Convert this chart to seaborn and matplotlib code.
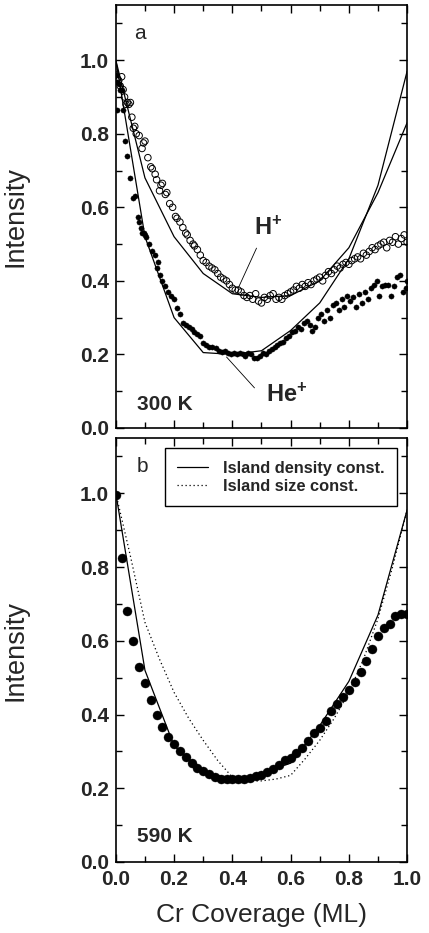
import numpy as np
import pandas as pd
import matplotlib
matplotlib.use("Agg")
import matplotlib.pyplot as plt
from matplotlib.ticker import MultipleLocator
import seaborn as sns

# ---------------- data ----------------
# Panel a : H+ (open circles)
h_x = [0.000, 0.005, 0.010, 0.015, 0.020, 0.025, 0.030, 0.035, 0.040, 0.045, 0.050, 0.055,
       0.060, 0.065, 0.070, 0.080, 0.090, 0.095, 0.100, 0.110, 0.120, 0.125, 0.135, 0.140,
       0.150, 0.155, 0.160, 0.170, 0.175, 0.185, 0.195, 0.205, 0.210, 0.220, 0.230, 0.240,
       0.245, 0.255, 0.265, 0.270, 0.280, 0.290, 0.300, 0.310, 0.320, 0.330, 0.340, 0.350,
       0.360, 0.370, 0.380, 0.390, 0.400, 0.410, 0.420, 0.430, 0.440, 0.450, 0.460, 0.470,
       0.480, 0.490, 0.500, 0.510, 0.520, 0.530, 0.540, 0.550, 0.560, 0.570, 0.580, 0.590,
       0.600, 0.610, 0.620, 0.630, 0.640, 0.650, 0.660, 0.670, 0.680, 0.690, 0.700, 0.710,
       0.720, 0.730, 0.740, 0.750, 0.760, 0.770, 0.780, 0.790, 0.800, 0.810, 0.820, 0.830,
       0.840, 0.850, 0.860, 0.870, 0.880, 0.890, 0.900, 0.910, 0.920, 0.930, 0.940, 0.950,
       0.960, 0.970, 0.980, 0.990, 1.000]
h_y = [0.960, 0.950, 0.945, 0.930, 0.955, 0.920, 0.900, 0.880, 0.885, 0.880, 0.885, 0.845,
       0.815, 0.820, 0.800, 0.795, 0.760, 0.775, 0.780, 0.735, 0.710, 0.705, 0.690, 0.675,
       0.645, 0.660, 0.665, 0.635, 0.640, 0.610, 0.600, 0.575, 0.570, 0.560, 0.545, 0.530,
       0.525, 0.510, 0.500, 0.495, 0.485, 0.470, 0.455, 0.450, 0.440, 0.435, 0.430, 0.420,
       0.410, 0.405, 0.400, 0.390, 0.380, 0.375, 0.375, 0.370, 0.360, 0.355, 0.360, 0.350,
       0.365, 0.345, 0.340, 0.355, 0.350, 0.360, 0.365, 0.350, 0.355, 0.350, 0.360, 0.365,
       0.370, 0.375, 0.385, 0.380, 0.390, 0.385, 0.395, 0.390, 0.400, 0.405, 0.410, 0.400,
       0.415, 0.425, 0.420, 0.430, 0.440, 0.435, 0.445, 0.450, 0.445, 0.455, 0.460, 0.465,
       0.460, 0.475, 0.470, 0.480, 0.490, 0.485, 0.495, 0.500, 0.505, 0.490, 0.510, 0.505,
       0.520, 0.500, 0.515, 0.525, 0.505]

# Panel a : He+ (filled circles)
he_x = [0.000, 0.003, 0.005, 0.010, 0.015, 0.020, 0.025, 0.030, 0.040, 0.050, 0.060, 0.065,
        0.075, 0.080, 0.085, 0.090, 0.095, 0.100, 0.105, 0.115, 0.125, 0.135, 0.140, 0.145,
        0.150, 0.160, 0.170, 0.180, 0.190, 0.200, 0.210, 0.220, 0.230, 0.240, 0.250, 0.260,
        0.270, 0.280, 0.290, 0.300, 0.310, 0.320, 0.330, 0.345, 0.355, 0.365, 0.375, 0.385,
        0.395, 0.405, 0.415, 0.425, 0.435, 0.445, 0.455, 0.465, 0.475, 0.485, 0.495, 0.505,
        0.515, 0.525, 0.535, 0.545, 0.555, 0.565, 0.575, 0.585, 0.595, 0.605, 0.615, 0.625,
        0.635, 0.645, 0.655, 0.665, 0.675, 0.685, 0.695, 0.705, 0.715, 0.725, 0.735, 0.745,
        0.755, 0.765, 0.775, 0.785, 0.795, 0.805, 0.815, 0.825, 0.835, 0.845, 0.855, 0.865,
        0.875, 0.885, 0.895, 0.905, 0.915, 0.925, 0.935, 0.945, 0.955, 0.965, 0.975, 0.985,
        0.995, 1.000]
he_y = [0.960, 0.865, 0.940, 0.935, 0.920, 0.920, 0.865, 0.780, 0.740, 0.680, 0.625, 0.630,
        0.575, 0.560, 0.545, 0.530, 0.530, 0.525, 0.520, 0.500, 0.480, 0.470, 0.435, 0.450,
        0.415, 0.400, 0.385, 0.370, 0.360, 0.350, 0.325, 0.310, 0.285, 0.280, 0.275, 0.270,
        0.260, 0.255, 0.250, 0.230, 0.225, 0.220, 0.220, 0.217, 0.210, 0.207, 0.210, 0.205,
        0.200, 0.205, 0.200, 0.205, 0.200, 0.195, 0.205, 0.200, 0.190, 0.190, 0.195, 0.205,
        0.200, 0.210, 0.215, 0.220, 0.225, 0.230, 0.235, 0.245, 0.250, 0.260, 0.265, 0.275,
        0.270, 0.285, 0.290, 0.280, 0.265, 0.275, 0.300, 0.310, 0.290, 0.320, 0.300, 0.335,
        0.340, 0.320, 0.350, 0.330, 0.360, 0.345, 0.355, 0.330, 0.365, 0.340, 0.370, 0.350,
        0.380, 0.390, 0.400, 0.360, 0.385, 0.390, 0.390, 0.360, 0.385, 0.410, 0.415, 0.370,
        0.380, 0.400]

# Panel a : model curves
model_x = [0.0, 0.1, 0.2, 0.3, 0.4, 0.5, 0.6, 0.7, 0.8, 0.9, 1.0]
model_h = [1.0, 0.68, 0.52, 0.42, 0.365, 0.355, 0.36, 0.40, 0.49, 0.64, 0.83]
model_he = [1.0, 0.52, 0.30, 0.205, 0.20, 0.21, 0.265, 0.34, 0.46, 0.66, 0.97]

# Panel b : 590 K data
b_x = [0.00, 0.02, 0.04, 0.06, 0.08, 0.10, 0.12, 0.14, 0.16, 0.18, 0.20, 0.22, 0.24,
       0.26, 0.28, 0.30, 0.32, 0.34, 0.36, 0.38, 0.40, 0.42, 0.44, 0.46, 0.48, 0.50,
       0.52, 0.54, 0.56, 0.58, 0.60, 0.62, 0.64, 0.66, 0.68, 0.70, 0.72, 0.74, 0.76,
       0.78, 0.80, 0.82, 0.84, 0.86, 0.88, 0.90, 0.92, 0.94, 0.96, 0.98, 1.00]
b_y = [0.995, 0.825, 0.680, 0.600, 0.530, 0.485, 0.440, 0.400, 0.365, 0.340, 0.320, 0.300,
       0.285, 0.268, 0.256, 0.246, 0.238, 0.230, 0.226, 0.225, 0.225, 0.225, 0.225, 0.228,
       0.232, 0.236, 0.245, 0.253, 0.262, 0.276, 0.282, 0.295, 0.310, 0.328, 0.350, 0.364,
       0.383, 0.410, 0.428, 0.447, 0.466, 0.488, 0.515, 0.545, 0.578, 0.612, 0.634, 0.645,
       0.668, 0.672, 0.673]

# Panel b : model curves
dens_x = [0.0, 0.1, 0.2, 0.3, 0.4, 0.5, 0.55, 0.6, 0.7, 0.8, 0.9, 1.0]
dens_y = [1.0, 0.52, 0.315, 0.245, 0.225, 0.235, 0.255, 0.268, 0.37, 0.49, 0.67, 0.955]
size_x = [0.0, 0.05, 0.1, 0.15, 0.2, 0.25, 0.3, 0.35, 0.4, 0.45, 0.5, 0.55, 0.6, 0.65,
          0.7, 0.75, 0.8, 0.85, 0.9, 0.95, 1.0]
size_y = [1.0, 0.83, 0.65, 0.55, 0.46, 0.39, 0.33, 0.275, 0.23, 0.22, 0.22, 0.225, 0.235,
          0.28, 0.33, 0.39, 0.46, 0.55, 0.66, 0.80, 0.955]

legend_labels = ["Island density const.", "Island size const."]
y_ticks = [0.0, 0.2, 0.4, 0.6, 0.8, 1.0]
x_ticks = [0.0, 0.2, 0.4, 0.6, 0.8, 1.0]

# ---------------- style ----------------
sns.set_style("ticks")
plt.rcParams["font.family"] = ["Liberation Sans", "DejaVu Sans"]
plt.rcParams["mathtext.default"] = "regular"

fig = plt.figure(figsize=(4.29, 9.33), dpi=100)
ax_a = fig.add_axes([0.270, 0.5413, 0.679, 0.4533])
ax_b = fig.add_axes([0.270, 0.0761, 0.679, 0.4544])


def style_axes(ax, show_xlabels):
    ax.set_xlim(0, 1.0)
    ax.set_ylim(0, 1.15)
    ax.set_xticks(x_ticks)
    ax.set_yticks(y_ticks)
    ax.xaxis.set_minor_locator(MultipleLocator(0.1))
    ax.yaxis.set_minor_locator(MultipleLocator(0.1))
    ax.tick_params(which="both", direction="in", top=True, right=True, color="black",
                   width=1.0)
    ax.tick_params(which="major", length=6)
    ax.tick_params(which="minor", length=4)
    ax.tick_params(axis="x", which="major", pad=6)
    ax.tick_params(axis="y", which="major", pad=5)
    ax.set_yticklabels([f"{v:.1f}" for v in y_ticks], fontsize=15, fontweight="bold")
    if show_xlabels:
        ax.set_xticklabels([f"{v:.1f}" for v in x_ticks], fontsize=15, fontweight="bold")
    else:
        ax.set_xticklabels([])
    for s in ax.spines.values():
        s.set_linewidth(1.2)
        s.set_color("black")
    ax.set_ylabel("Intensity", fontsize=19.5)
    ax.yaxis.set_label_coords(-0.30, 0.5)


# ---------------- panel a ----------------
df_h = pd.DataFrame({"x": h_x, "y": h_y})
df_he = pd.DataFrame({"x": he_x, "y": he_y})
df_ma = pd.DataFrame({"x": model_x + model_x,
                      "y": model_h + model_he,
                      "m": ["H"] * len(model_x) + ["He"] * len(model_x)})

sns.lineplot(data=df_ma, x="x", y="y", units="m", estimator=None, color="black",
             linewidth=0.9, ax=ax_a, legend=False)
sns.scatterplot(data=df_he, x="x", y="y", ax=ax_a, color="black", s=14,
                edgecolor="black", linewidth=0.3, legend=False, zorder=3)
sns.scatterplot(data=df_h, x="x", y="y", ax=ax_a, s=22, facecolor="none",
                edgecolor="black", linewidth=0.7, legend=False, zorder=3)
style_axes(ax_a, False)
ax_a.set_xlabel("")

ax_a.text(0.082, 1.073, "a", fontsize=15, ha="center", va="center")
ax_a.text(0.072, 0.065, "300 K", fontsize=15, fontweight="bold", ha="left", va="center")
ax_a.annotate("", xy=(0.42, 0.38), xytext=(0.483, 0.489),
              arrowprops=dict(arrowstyle="-", color="black", lw=0.6, shrinkA=0, shrinkB=0))
ax_a.annotate("", xy=(0.38, 0.193), xytext=(0.476, 0.109),
              arrowprops=dict(arrowstyle="-", color="black", lw=0.6, shrinkA=0, shrinkB=0))
ax_a.text(0.476, 0.543, r"H$^{+}$", fontsize=17, fontweight="bold", ha="left", va="center")
ax_a.text(0.517, 0.09, r"He$^{+}$", fontsize=17, fontweight="bold", ha="left", va="center")

# ---------------- panel b ----------------
df_b = pd.DataFrame({"x": b_x, "y": b_y})
df_dens = pd.DataFrame({"x": dens_x, "y": dens_y})
df_size = pd.DataFrame({"x": size_x, "y": size_y})

sns.lineplot(data=df_dens, x="x", y="y", color="black", linewidth=0.9, ax=ax_b,
             label=legend_labels[0])
sns.lineplot(data=df_size, x="x", y="y", color="black", linewidth=0.9, ax=ax_b,
             linestyle=(0, (1, 2.2)), label=legend_labels[1])
sns.scatterplot(data=df_b, x="x", y="y", ax=ax_b, color="black", s=42,
                edgecolor="black", linewidth=0.3, legend=False, zorder=3)
style_axes(ax_b, True)
ax_b.set_xlabel("Cr Coverage (ML)", fontsize=19, labelpad=10)

ax_b.text(0.093, 1.074, "b", fontsize=15, ha="center", va="center")
ax_b.text(0.072, 0.068, "590 K", fontsize=15, fontweight="bold", ha="left", va="center")

leg = ax_b.legend(loc="upper left", bbox_to_anchor=(0.168, 0.976), borderaxespad=0,
                  frameon=True, fancybox=False, edgecolor="black", framealpha=1,
                  prop={"size": 11.8, "weight": "bold"}, handlelength=1.9,
                  handletextpad=0.9, labelspacing=0.2, borderpad=0.75)
leg.get_frame().set_linewidth(1.0)

fig.savefig("out.png", dpi=100)
